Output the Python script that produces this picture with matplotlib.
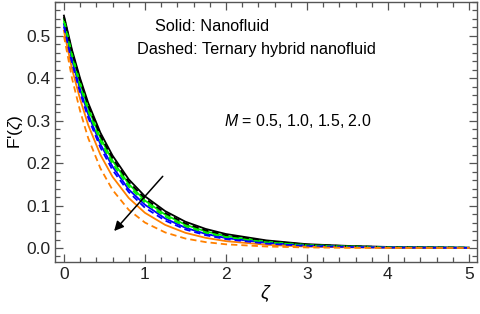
import matplotlib
matplotlib.use("Agg")
import matplotlib.pyplot as plt
from matplotlib.ticker import MultipleLocator

plt.rcParams['font.family'] = ['Liberation Sans', 'DejaVu Sans']
plt.rcParams['mathtext.fontset'] = 'custom'
plt.rcParams['mathtext.it'] = 'Liberation Sans:italic'
plt.rcParams['mathtext.rm'] = 'Liberation Sans'

# eta grid (zeta) and velocity profiles F'(zeta)
zeta = [0, 0.1, 0.2, 0.3, 0.45, 0.6, 0.8, 1.0, 1.25, 1.5, 1.75, 2.0, 2.5, 3.0, 3.5, 4.0, 5.0]

# solid: nanofluid, M = 0.5, 1.0, 1.5, 2.0
nf_m05 = [0.548, 0.467, 0.400, 0.342, 0.272, 0.218, 0.162, 0.122, 0.087, 0.062, 0.045, 0.033, 0.018, 0.009, 0.005, 0.0025, 0.0008]
nf_m10 = [0.540, 0.457, 0.389, 0.330, 0.260, 0.206, 0.151, 0.112, 0.0787, 0.0549, 0.0392, 0.0282, 0.0149, 0.0072, 0.0038, 0.0019, 0.0006]
nf_m15 = [0.528, 0.443, 0.374, 0.315, 0.245, 0.192, 0.138, 0.102, 0.0696, 0.0477, 0.0333, 0.0235, 0.0120, 0.0055, 0.0028, 0.0013, 0.0004]
nf_m20 = [0.512, 0.422, 0.351, 0.290, 0.220, 0.168, 0.118, 0.083, 0.0545, 0.0358, 0.0240, 0.0162, 0.0076, 0.0032, 0.0015, 0.0007, 0.0002]

# dashed: ternary hybrid nanofluid
th_m05 = [0.545, 0.462, 0.395, 0.336, 0.265, 0.212, 0.156, 0.117, 0.0824, 0.058, 0.0417, 0.0302, 0.0163, 0.0079, 0.0043, 0.0021, 0.0007]
th_m10 = [0.535, 0.451, 0.382, 0.323, 0.252, 0.199, 0.145, 0.107, 0.0741, 0.0513, 0.0362, 0.0258, 0.0135, 0.0063, 0.0033, 0.0016, 0.0005]
th_m15 = [0.522, 0.436, 0.366, 0.307, 0.237, 0.184, 0.132, 0.095, 0.0647, 0.0437, 0.0302, 0.0210, 0.0104, 0.0047, 0.0024, 0.0011, 0.0003]
th_m20 = [0.500, 0.400, 0.323, 0.259, 0.188, 0.137, 0.090, 0.060, 0.0367, 0.0223, 0.0139, 0.0087, 0.0035, 0.0013, 0.0005, 0.0002, 0.0]

colors = ['black', '#00ee00', '#0000ff', '#ff8000']
nano = [nf_m05, nf_m10, nf_m15, nf_m20]
tern = [th_m05, th_m10, th_m15, th_m20]

fig = plt.figure(figsize=(4.8, 3.14), dpi=100)
ax = fig.add_axes([0.1146, 0.1656, 0.8792, 0.828])

for c, y in zip(colors, nano):
    ax.plot(zeta, y, color=c, lw=1.3)
for c, y in zip(colors, tern):
    ax.plot(zeta, y, color=c, lw=1.3, dashes=(3.5, 2.2))

ax.set_xlim(-0.11, 5.1)
ax.set_ylim(-0.033, 0.58)

ax.xaxis.set_major_locator(MultipleLocator(1))
ax.xaxis.set_minor_locator(MultipleLocator(0.2))
ax.yaxis.set_major_locator(MultipleLocator(0.1))
ax.yaxis.set_minor_locator(MultipleLocator(0.02))
ax.yaxis.set_major_formatter(plt.FuncFormatter(lambda v, p: f"{v:.1f}"))

fc = '#555555'
for s in ax.spines.values():
    s.set_color(fc)
    s.set_linewidth(1.0)
ax.tick_params(which='both', direction='in', top=True, right=True, color=fc,
               labelsize=12.5, labelcolor='#222222', width=0.9)
ax.tick_params(which='major', length=6, pad=3.5)
ax.tick_params(which='minor', length=3.3)

ax.set_xlabel(r'$\zeta$', fontsize=13.5, labelpad=1)
ax.set_ylabel(r"F'($\zeta$)", fontsize=12.5, labelpad=1)

ax.text(1.12, 0.522, 'Solid: Nanofluid', fontsize=11.7, va='center')
ax.text(0.9, 0.467, 'Dashed: Ternary hybrid nanofluid', fontsize=11.7, va='center')
ax.text(1.98, 0.30, r'$M$ = 0.5, 1.0, 1.5, 2.0', fontsize=11.4, va='center')

ax.annotate('', xy=(0.62, 0.040), xytext=(1.22, 0.169),
            arrowprops=dict(arrowstyle='-|>', color='black', lw=1.1,
                            mutation_scale=14, shrinkA=0, shrinkB=0))

fig.savefig('out.png', dpi=100)
